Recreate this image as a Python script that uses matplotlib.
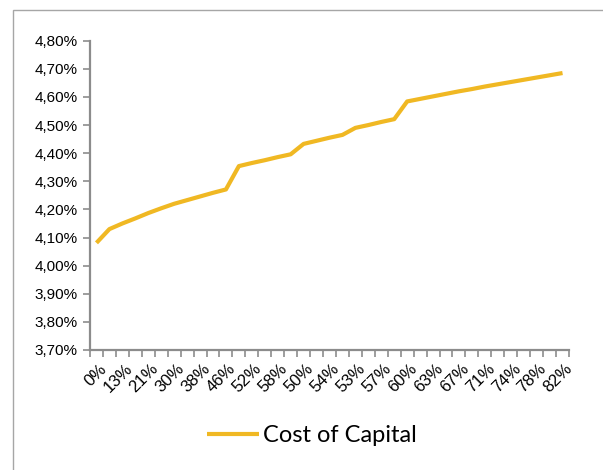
import matplotlib
matplotlib.use("Agg")
import matplotlib.pyplot as plt
from matplotlib.patches import Rectangle
from matplotlib.ticker import FixedLocator, FuncFormatter
from matplotlib.transforms import ScaledTranslation
import numpy as np

# cost of capital (%) for each of the 37 debt ratio steps
cost_of_capital = [4.081, 4.130, 4.150, 4.168, 4.187, 4.204, 4.220, 4.233,
                   4.246, 4.259, 4.271, 4.354, 4.365, 4.375, 4.386, 4.396,
                   4.433, 4.444, 4.455, 4.465, 4.490, 4.500, 4.511, 4.521,
                   4.584, 4.593, 4.602, 4.611, 4.620, 4.628, 4.637, 4.645,
                   4.653, 4.661, 4.669, 4.677, 4.685]
# only every second category carries a label
shown_labels = ["0%", "13%", "21%", "30%", "38%", "46%", "52%", "58%", "50%",
                "54%", "53%", "57%", "60%", "63%", "67%", "71%", "74%", "78%",
                "82%"]
y_ticks = [3.70, 3.80, 3.90, 4.00, 4.10, 4.20, 4.30, 4.40, 4.50, 4.60,
           4.70, 4.80]

gold = "#F0B823"
axis_grey = "#8C8C8C"

fig = plt.figure(figsize=(6.03, 4.70), dpi=100)
ax = fig.add_axes([90/603, 1-350/470, 479/603, (350-40.7)/470])

x = np.arange(len(cost_of_capital))
ax.plot(x, cost_of_capital, color=gold, lw=3.0, solid_capstyle="butt",
        label="Cost of Capital")

ax.set_xlim(-0.5, len(cost_of_capital) - 0.5)
ax.set_ylim(y_ticks[0], y_ticks[-1])
ax.set_yticks(y_ticks)
ax.yaxis.set_major_formatter(FuncFormatter(lambda v, p: f"{v:.2f}%".replace(".", ",")))

# tick marks sit between categories, labels under every second category
ax.xaxis.set_major_locator(FixedLocator(x[::2]))
ax.set_xticklabels(shown_labels, rotation=45, ha="right", rotation_mode="anchor",
                   fontfamily="Liberation Sans", fontsize=12)
ax.tick_params(axis="x", which="major", length=0, pad=8)
shift = ScaledTranslation(2/100, 0, fig.dpi_scale_trans)
for lbl in ax.get_xticklabels():
    lbl.set_transform(lbl.get_transform() + shift)
ax.set_xticks(np.arange(-0.5, len(cost_of_capital)), minor=True)
ax.tick_params(axis="x", which="minor", length=5, width=1.2, color=axis_grey)
ax.tick_params(axis="y", length=5, width=1.2, color=axis_grey, pad=4)
for lbl in ax.get_yticklabels():
    lbl.set_fontfamily("Liberation Sans")
    lbl.set_fontsize(11)

for side in ("top", "right"):
    ax.spines[side].set_visible(False)
for side in ("left", "bottom"):
    ax.spines[side].set_color(axis_grey)
    ax.spines[side].set_linewidth(1.6)

# chart frame (only left and top edges fall inside the image)
fig.add_artist(Rectangle((13/603, -0.1), 1.2, 1.1 - 10/470, transform=fig.transFigure,
                         fill=False, edgecolor="#A6A6A6", lw=1.0, clip_on=False))

fig.legend(loc="center", bbox_to_anchor=(312/603, 1-436/470), frameon=False,
           prop={"family": "Lato", "size": 17}, handlelength=2.2,
           handletextpad=0.15, borderaxespad=0)

fig.savefig("out.png", dpi=100)
